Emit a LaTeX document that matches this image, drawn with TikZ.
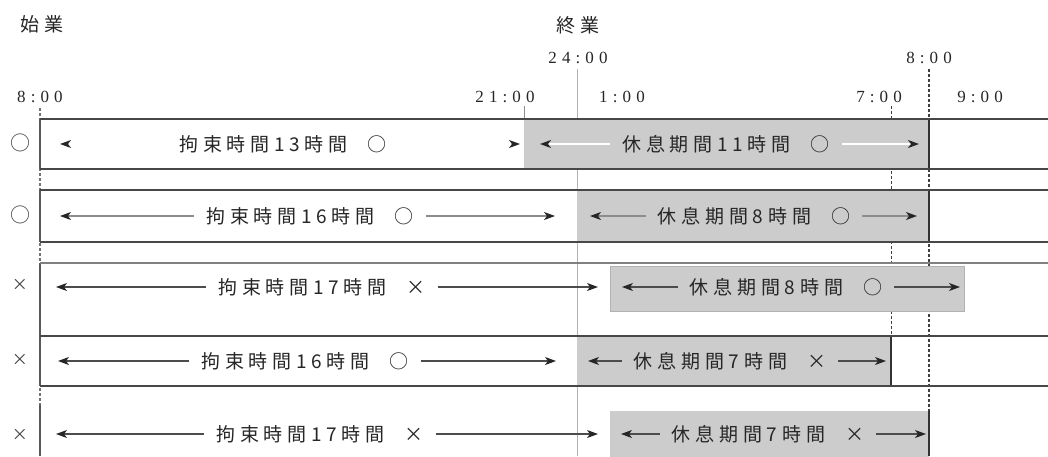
\documentclass[tikz,border=0pt]{standalone}
\usepackage{fontspec}
\setmainfont{Liberation Serif}
\newfontfamily\jpfam[LetterSpace=25]{Noto Sans CJK JP}
\newfontfamily\jpplain{Noto Sans CJK JP}
\newfontfamily\tmfam[LetterSpace=30]{Liberation Serif}
\newcommand\JPfont{\jpfam\fontsize{19}{22}\selectfont}
\newcommand\SYfont{\jpplain\fontsize{20}{22}\selectfont}
\newcommand\TMfont{\tmfam\fontsize{17}{20}\selectfont}
\usetikzlibrary{arrows.meta}
\begin{document}
\begin{tikzpicture}[x=1pt,y=-1pt,
  jptxt/.style={font=\JPfont, text=black!85, inner xsep=12pt, inner ysep=2pt},
  hdr/.style={font=\JPfont, text=black!85, inner sep=0pt},
  tl/.style={font=\TMfont, text=black!85, inner sep=0pt},
  sym/.style={font=\SYfont, text=black!75, inner sep=0pt},
  rest/.style={fill=black!20},
  rowline/.style={draw=black!72, line width=1.8pt},
  thinrow/.style={draw=black!50, line width=1.1pt},
  edge/.style={draw=black!80, line width=1.4pt},
  leftline/.style={draw=black!65, line width=1.4pt},
  guide/.style={draw=black!30, line width=0.7pt},
  tickline/.style={draw=black!45, line width=0.8pt},
  dashline/.style={draw=black!75, line width=1.3pt, dash pattern=on 2.5pt off 2.5pt},
  arr/.style={draw=black!70, line width=1.1pt, -{Stealth[length=11pt,width=8pt,inset=3pt,color=black!85]}},
  warr/.style={draw=white, line width=1.4pt, -{Stealth[length=11pt,width=8pt,inset=3pt,color=black!85]}}
]
\useasboundingbox (0,0) rectangle (1048,456);

% header labels
\node[hdr] (shigyo) at (42,24) {始業};
\node[hdr] (shugyo) at (578,25) {終業};
\node[tl] (t24) at (578,58) {24:00};
\node[tl] (t8b) at (929,58) {8:00};
\node[tl] (t8) at (40,97) {8:00};
\node[tl] (t21) at (505,97) {21:00};
\node[tl] (t1) at (622,97) {1:00};
\node[tl] (t7) at (879,97) {7:00};
\node[tl] (t9) at (980,97) {9:00};

% guide lines
\coordinate (g24a) at (577,69);  \coordinate (g24b) at (577,456);
\coordinate (g21a) at (524,106); \coordinate (g21b) at (524,119);
\coordinate (g7a) at (891,106);  \coordinate (g7b) at (891,336);
\coordinate (g8a) at (929,69);   \coordinate (g8b) at (929,456);
\coordinate (gLa) at (40,108);   \coordinate (gLb) at (40,456);
\draw[guide] (g24a) -- (g24b);
\draw[tickline] (g21a) -- (g21b);
\draw[dashline, line width=1pt] (g7a) -- (g7b);
\draw[dashline] (g8a) -- (g8b);
\draw[dashline, draw=black!55] (gLa) -- (gLb);

% rest periods (grey)
\fill[rest] (524,119) rectangle (929,169);
\fill[rest] (577,190) rectangle (929,242);
\filldraw[rest, draw=black!30, line width=0.8pt] (610,266) rectangle (964,311);
\fill[rest] (577,336) rectangle (891,386);
\fill[rest] (610,411) rectangle (929,458);

% grey box right edges
\draw[edge] (929,119) -- (929,169);
\draw[edge] (929,190) -- (929,242);
\draw[edge] (891,336) -- (891,386);
\draw[edge] (929,411) -- (929,456);

% left edge solid parts
\draw[leftline] (40,119) -- (40,169);
\draw[leftline] (40,190) -- (40,242);
\draw[leftline] (40,263) -- (40,386);
\draw[leftline] (40,405) -- (40,456);

% row lines
\draw[rowline] (40,119) -- (1048,119);
\draw[rowline] (40,169) -- (1048,169);
\draw[rowline] (40,190) -- (1048,190);
\draw[rowline] (40,242) -- (1048,242);
\draw[thinrow] (40,263) -- (1048,263);
\draw[rowline] (40,336) -- (1048,336);
\draw[rowline] (40,386) -- (1048,386);

% row judgement symbols
\node[sym] (s1) at (20,143) {○};
\node[sym] (s2) at (20,215) {○};
\node[sym, font=\jpplain\fontsize{16}{18}\selectfont] (s3) at (20,285) {×};
\node[sym, font=\jpplain\fontsize{16}{18}\selectfont] (s4) at (20,360) {×};
\node[sym, font=\jpplain\fontsize{16}{18}\selectfont] (s5) at (20,435) {×};

% row 1
\node[jptxt] (b1) at (283,144) {拘束時間13時間\hspace{20pt}○};
\node[jptxt] (r1) at (726,144) {休息期間11時間\hspace{20pt}○};
\coordinate (b1l) at (60,144); \coordinate (b1r) at (520,144);
\coordinate (r1l) at (540,144); \coordinate (r1r) at (919,144);
\draw[warr] (b1.west) -- (b1l);
\draw[warr] (b1.east) -- (b1r);
\draw[warr] (r1.west) -- (r1l);
\draw[warr] (r1.east) -- (r1r);

% row 2
\node[jptxt] (b2) at (310,216) {拘束時間16時間\hspace{20pt}○};
\node[jptxt] (r2) at (754,216) {休息期間8時間\hspace{20pt}○};
\coordinate (b2l) at (60,216); \coordinate (b2r) at (555,216);
\coordinate (r2l) at (590,216); \coordinate (r2r) at (917,216);
\draw[arr, draw=black!45] (b2.west) -- (b2l);
\draw[arr, draw=black!45] (b2.east) -- (b2r);
\draw[arr, draw=black!45] (r2.west) -- (r2l);
\draw[arr, draw=black!45] (r2.east) -- (r2r);

% row 3
\node[jptxt] (b3) at (322,287) {拘束時間17時間\hspace{20pt}×};
\node[jptxt] (r3) at (786,287) {休息期間8時間\hspace{20pt}○};
\coordinate (b3l) at (56,287); \coordinate (b3r) at (598,287);
\coordinate (r3l) at (622,287); \coordinate (r3r) at (960,287);
\draw[arr] (b3.west) -- (b3l);
\draw[arr] (b3.east) -- (b3r);
\draw[arr] (r3.west) -- (r3l);
\draw[arr] (r3.east) -- (r3r);

% row 4
\node[jptxt] (b4) at (305,361) {拘束時間16時間\hspace{20pt}○};
\node[jptxt] (r4) at (730,361) {休息期間7時間\hspace{20pt}×};
\coordinate (b4l) at (58,361); \coordinate (b4r) at (556,361);
\coordinate (r4l) at (588,361); \coordinate (r4r) at (886,361);
\draw[arr] (b4.west) -- (b4l);
\draw[arr] (b4.east) -- (b4r);
\draw[arr] (r4.west) -- (r4l);
\draw[arr] (r4.east) -- (r4r);

% row 5
\node[jptxt] (b5) at (320,434) {拘束時間17時間\hspace{20pt}×};
\node[jptxt] (r5) at (768,434) {休息期間7時間\hspace{20pt}×};
\coordinate (b5l) at (56,434); \coordinate (b5r) at (598,434);
\coordinate (r5l) at (621,434); \coordinate (r5r) at (926,434);
\draw[arr] (b5.west) -- (b5l);
\draw[arr] (b5.east) -- (b5r);
\draw[arr] (r5.west) -- (r5l);
\draw[arr] (r5.east) -- (r5r);
\end{tikzpicture}
\end{document}
